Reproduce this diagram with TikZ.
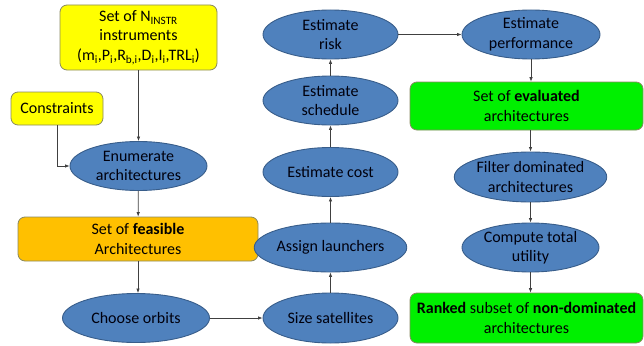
\documentclass[tikz,border=0pt]{standalone}
\usepackage{fontspec}
\setmainfont{Carlito}
\usetikzlibrary{shapes.geometric,arrows.meta}
\definecolor{ellfill}{HTML}{4F81BD}
\definecolor{elldraw}{HTML}{385D8A}
\definecolor{yel}{HTML}{FFFF00}
\definecolor{orng}{HTML}{FFC000}
\definecolor{grn}{HTML}{00F000}
\definecolor{boxline}{HTML}{6B6B3A}
\begin{document}
\begin{tikzpicture}[x=1pt,y=-1pt,
  every node/.style={font=\fontsize{16}{19.5}\selectfont, align=center, inner sep=0pt},
  proc/.style={ellipse, draw=elldraw, fill=ellfill, line width=0.9pt, minimum width=137pt, minimum height=49pt, text=black!95!blue},
  databox/.style={rectangle, rounded corners=7pt, draw=boxline!80, line width=0.8pt, text=black},
  arr/.style={draw=black!75, line width=0.7pt, -{Latex[length=4.5pt,width=3.5pt]}}]
\useasboundingbox (0,0) rectangle (644,345);
% left column
\node[databox, fill=yel, minimum width=157pt, minimum height=65pt] (instr) at (138.5,37.5)
  {Set of N\textsubscript{INSTR}\\instruments\\(m\textsubscript{i},P\textsubscript{i},R\textsubscript{b,i},D\textsubscript{i},I\textsubscript{i},TRL\textsubscript{i})};
\node[databox, fill=yel, minimum width=92pt, minimum height=33pt] (cons) at (57,108.5) {Constraints};
\node[proc] (enum) at (138.5,166) {Enumerate\\architectures};
\node[databox, fill=orng, minimum width=240pt, minimum height=44pt] (feas) at (138,239) {Set of \textbf{feasible}\\Architectures};
\node[proc, minimum width=147pt] (orbits) at (136,318) {Choose orbits};
% middle column
\node[proc, minimum width=135pt] (risk) at (330.5,34.5) {Estimate\\risk};
\node[proc, minimum width=135pt] (sched) at (330.5,100.5) {Estimate\\schedule};
\node[proc, minimum width=135pt] (cost) at (330.5,172) {Estimate cost};
\node[proc, minimum width=135pt] (launch) at (330.5,247.5) {Assign launchers};
\node[proc, minimum width=135pt, minimum height=50pt] (size) at (330.5,318) {Size satellites};
% right column
\node[proc, minimum width=138pt] (perf) at (531,34.5) {Estimate\\performance};
\node[databox, fill=grn, minimum width=233pt, minimum height=48pt] (eval) at (526.5,106) {Set of \textbf{evaluated}\\architectures};
\node[proc, minimum height=50pt] (filter) at (530.5,177) {Filter dominated\\architectures};
\node[proc] (util) at (530.5,247.5) {Compute total\\utility};
\node[databox, fill=grn, minimum width=233pt, minimum height=50pt] (ranked) at (526.5,318) {\textbf{Ranked} subset of \textbf{non-dominated}\\architectures};
% connectors
\draw[arr] (instr) -- (enum);
\draw[arr] (cons.south) |- (enum.west);
\draw[arr] (enum) -- (feas);
\draw[arr] (feas.south) -- (feas.south |- orbits.north);
\draw[arr] (orbits.east) -- (size.west);
\draw[arr] (size) -- (launch);
\draw[arr] (launch) -- (cost);
\draw[arr] (cost) -- (sched);
\draw[arr] (sched) -- (risk);
\draw[arr] (risk.east) -- (perf.west);
\draw[arr] (perf) -- (perf |- eval.north);
\draw[arr] (filter |- eval.south) -- (filter);
\draw[arr] (filter) -- (util);
\draw[arr] (util) -- (util |- ranked.north);
\end{tikzpicture}
\end{document}
